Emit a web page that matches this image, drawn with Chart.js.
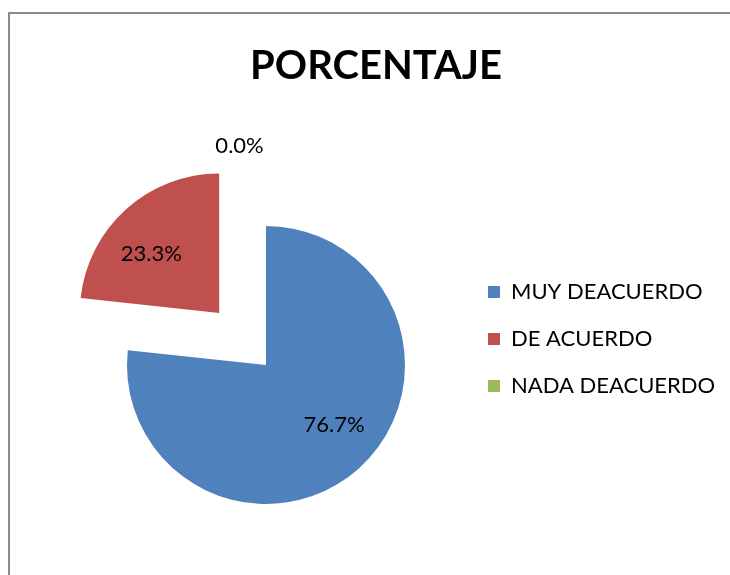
<!DOCTYPE html>
<html>
<head>
<meta charset="utf-8">
<script src="https://cdn.jsdelivr.net/npm/chart.js@4/dist/chart.umd.min.js"></script>
<style>
  html,body{margin:0;padding:0;background:#fff;}
  #wrap{width:730px;height:575px;}
</style>
</head>
<body>
<div id="wrap"><canvas id="myPieChart" width="730" height="575"></canvas></div>
<script>
var categorias=['MUY DEACUERDO','DE ACUERDO','NADA DEACUERDO'];
var porcentaje=[76.7,23.3,0.0];
var colores=['#4F81BD','#C0504D','#9BBB59'];
var separado=[0,280,0];

// marco gris del grafico
var marco={
  id:'marco',
  beforeDraw:function(chart){
    var ctx=chart.ctx;
    ctx.save();
    ctx.fillStyle='#8c8c8c';
    ctx.fillRect(8,12,2,chart.height-12);
    ctx.fillRect(8,12,chart.width-8,2);
    ctx.restore();
  }
};

// la leyenda se recorta a su caja: la estiramos hasta el borde
var leyendaAncha={
  id:'leyendaAncha',
  afterLayout:function(chart){
    if(chart.legend){
      chart.legend.right=chart.width;
      chart.legend.width=chart.legend.right-chart.legend.left;
    }
  }
};

// etiquetas de porcentaje sobre cada sector
var etiquetas={
  id:'etiquetas',
  afterDatasetsDraw:function(chart){
    var ctx=chart.ctx;
    var meta=chart.getDatasetMeta(0);
    ctx.save();
    ctx.font='22px Lato';
    ctx.fillStyle='#000';
    ctx.textBaseline='middle';
    ctx.textAlign='center';
    meta.data.forEach(function(arc,i){
      var p=arc.getProps(['x','y','startAngle','endAngle','outerRadius'],true);
      var a=(p.startAngle+p.endAngle)/2;
      var off=(arc.options.offset||0)/4;
      var cx=p.x+Math.cos(a)*off;
      var cy=p.y+Math.sin(a)*off;
      var txt=porcentaje[i].toFixed(1)+'%';
      var k=porcentaje[i]===0?1.59:0.65;
      var b=a-0.12;
      ctx.fillText(txt,cx+Math.cos(b)*p.outerRadius*k,cy+Math.sin(b)*p.outerRadius*k);
    });
    ctx.restore();
  }
};

var chardata={
  labels:categorias,
  datasets:[
    {
      data:porcentaje,
      backgroundColor:colores,
      borderWidth:0,
      offset:separado,
      hoverOffset:0,
      radius:139
    }
  ]
};

var ctx=document.getElementById('myPieChart');
var pieGraph=new Chart(ctx,{
  type:'pie',
  data:chardata,
  plugins:[marco,leyendaAncha,etiquetas],
  options:{
    responsive:false,
    animation:false,
    layout:{padding:{left:69,right:47,top:0,bottom:0}},
    plugins:{
      title:{
        display:true,
        text:'PORCENTAJE',
        color:'#000',
        font:{family:'Lato',size:40,weight:'bold'},
        padding:{top:42,bottom:65}
      },
      legend:{
        position:'right',
        align:'start',
        maxWidth:220,
        title:{display:true,text:'',font:{size:12},padding:{top:241.6,bottom:0}},
        labels:{
          boxWidth:12,
          boxHeight:12,
          padding:25,
          color:'#000',
          font:{family:'Lato',size:22}
        }
      },
      tooltip:{enabled:false}
    }
  }
});
</script>
</body>
</html>
